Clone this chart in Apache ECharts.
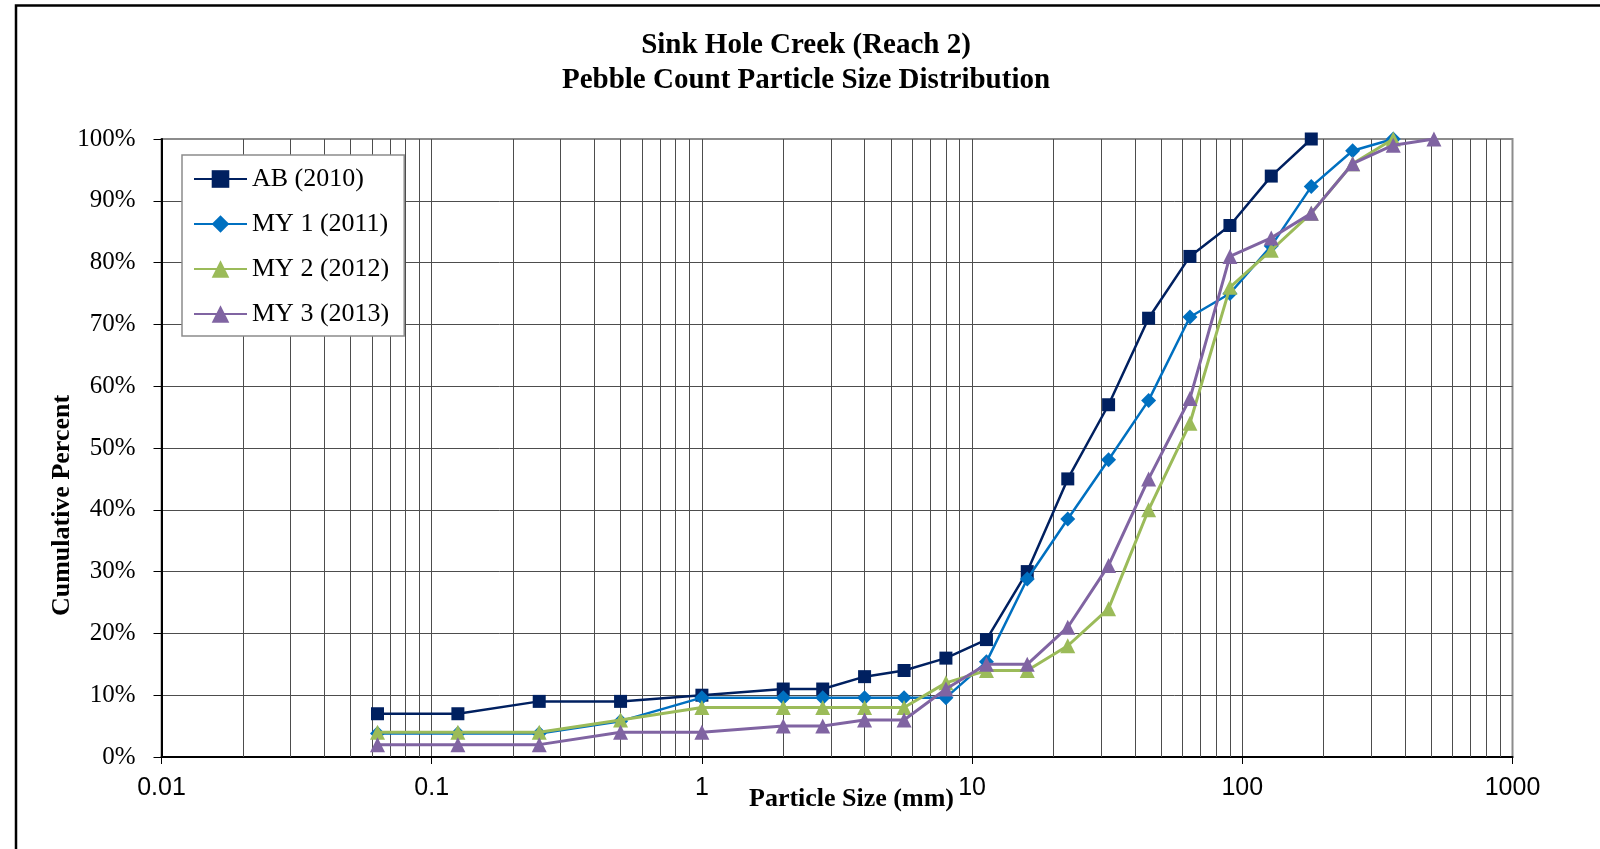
<!DOCTYPE html>
<html>
<head>
<meta charset="utf-8">
<script src="https://cdn.jsdelivr.net/npm/echarts@6/dist/echarts.min.js"></script>
<style>
html,body{margin:0;padding:0;background:#fff;}
#chart{width:1600px;height:849px;}
</style>
</head>
<body>
<div id="chart"></div>
<script>
// Sieve sizes (mm)
const sizes = [0.063, 0.125, 0.25, 0.5, 1, 2, 2.8, 4, 5.6, 8, 11.3, 16, 22.6, 32, 45, 64, 90, 128, 180, 256, 362, 512];
// Cumulative percent finer than
const ab2010 = [7, 7, 9, 9, 10, 11, 11, 13, 14, 16, 19, 30, 45, 57, 71, 81, 86, 94, 100, null, null, null];
const my1_2011 = [3.8, 3.8, 3.8, 5.8, 9.6, 9.6, 9.6, 9.6, 9.6, 9.6, 15.4, 28.8, 38.5, 48.1, 57.7, 71.2, 75.0, 82.7, 92.3, 98.1, 100, null];
const my2_2012 = [4, 4, 4, 6, 8, 8, 8, 8, 8, 12, 14, 14, 18, 24, 40, 54, 76, 82, 88, 96, 100, null];
const my3_2013 = [2, 2, 2, 4, 4, 5, 5, 6, 6, 11, 15, 15, 21, 31, 45, 58, 81, 84, 88, 96, 99, 100];
const seriesNames = ['AB (2010)', 'MY 1 (2011)', 'MY 2 (2012)', 'MY 3 (2013)'];
const xTickLabels = ['0.01', '0.1', '1', '10', '100', '1000'];

function pairs(vals) {
  const out = [];
  sizes.forEach((s, i) => { if (vals[i] != null) out.push([s, vals[i]]); });
  return out;
}

// minor log grid lines (2..9 in each decade of the axis range)
const minorLines = [];
for (let d = -2; d <= 2; d++) {
  for (let k = 2; k <= 9; k++) minorLines.push({ xAxis: k * Math.pow(10, d) });
}

const serif = 'Liberation Serif, "Times New Roman", serif';
const sans = 'Liberation Sans, Arial, sans-serif';

const chart = echarts.init(document.getElementById('chart'), null, { renderer: 'canvas' });
const option = {
  backgroundColor: '#ffffff',
  animation: false,
  grid: {
    left: 161.5, right: 87.5, top: 139, bottom: 92,
    show: true, borderColor: '#8c8c8c', borderWidth: 2, backgroundColor: 'transparent'
  },
  legend: {
    orient: 'vertical',
    left: 182, top: 155, z: 30,
    data: seriesNames,
    backgroundColor: '#ffffff',
    borderColor: '#8c8c8c', borderWidth: 1.5,
    padding: [11, 15, 9, 11],
    itemWidth: 53, itemHeight: 22, itemGap: 19,
    textStyle: { fontFamily: serif, fontSize: 26, color: '#000' }
  },
  xAxis: {
    type: 'log', logBase: 10, min: 0.01, max: 1000,
    axisLine: { show: true, onZero: false, lineStyle: { color: '#000', width: 2 } },
    axisTick: { show: true, length: 7, lineStyle: { color: '#000', width: 1 } },
    minorTick: { show: false },
    axisLabel: {
      margin: 19, fontFamily: sans, fontSize: 25, color: '#000',
      formatter: function (v) {
        const e = Math.round(Math.log10(v));
        return xTickLabels[e + 2];
      }
    },
    splitLine: { show: true, showMinLine: false, showMaxLine: false, lineStyle: { color: '#4d4d4d', width: 1 } }
  },
  yAxis: {
    type: 'value', min: 0, max: 100, interval: 10,
    axisLine: { show: true, onZero: false, lineStyle: { color: '#000', width: 2 } },
    axisTick: { show: true, length: 8, lineStyle: { color: '#000', width: 1 } },
    axisLabel: { margin: 26, fontFamily: serif, fontSize: 25, color: '#000', formatter: '{value}%' },
    splitLine: { show: true, showMinLine: false, showMaxLine: false, lineStyle: { color: '#4d4d4d', width: 1 } }
  },
  series: [
    {
      name: 'gridMinor', type: 'line', data: [], z: 1, silent: true,
      markLine: {
        z: 1,
        silent: true, symbol: ['none', 'none'], label: { show: false },
        lineStyle: { color: '#4d4d4d', width: 1, type: 'solid' },
        emphasis: { disabled: true },
        animation: false,
        data: minorLines
      }
    },
    {
      name: seriesNames[0], type: 'line', data: pairs(ab2010), z: 5,
      symbol: 'rect', symbolSize: 13,
      itemStyle: { color: '#002060' }, lineStyle: { color: '#002060', width: 2.5 }
    },
    {
      name: seriesNames[1], type: 'line', data: pairs(my1_2011), z: 6,
      symbol: 'diamond', symbolSize: 15,
      itemStyle: { color: '#0070C0' }, lineStyle: { color: '#0070C0', width: 2.5 }
    },
    {
      name: seriesNames[2], type: 'line', data: pairs(my2_2012), z: 7,
      symbol: 'triangle', symbolSize: 15,
      itemStyle: { color: '#9BBB59' }, lineStyle: { color: '#9BBB59', width: 3 }
    },
    {
      name: seriesNames[3], type: 'line', data: pairs(my3_2013), z: 8,
      symbol: 'triangle', symbolSize: 15,
      itemStyle: { color: '#8064A2' }, lineStyle: { color: '#8064A2', width: 3 }
    }
  ],
  graphic: [
    { type: 'rect', shape: { x: 16, y: 5.5, width: 1700, height: 1000 }, style: { fill: 'none', stroke: '#000', lineWidth: 2.5 }, silent: true, z: 100 },
    { type: 'text', x: 806, y: 46, style: { text: 'Sink Hole Creek (Reach 2)', font: 'bold 29px ' + serif, fill: '#000', textAlign: 'center', textVerticalAlign: 'middle' } },
    { type: 'text', x: 806, y: 80.5, style: { text: 'Pebble Count Particle Size Distribution', font: 'bold 29px ' + serif, fill: '#000', textAlign: 'center', textVerticalAlign: 'middle' } },
    { type: 'text', x: 851.5, y: 799, style: { text: 'Particle Size (mm)', font: 'bold 26px ' + serif, fill: '#000', textAlign: 'center', textVerticalAlign: 'middle' } },
    { type: 'text', x: 62, y: 505.5, rotation: Math.PI / 2, style: { text: 'Cumulative Percent', font: 'bold 26px ' + serif, fill: '#000', textAlign: 'center', textVerticalAlign: 'middle' } }
  ]
};
chart.setOption(option);
</script>
</body>
</html>
